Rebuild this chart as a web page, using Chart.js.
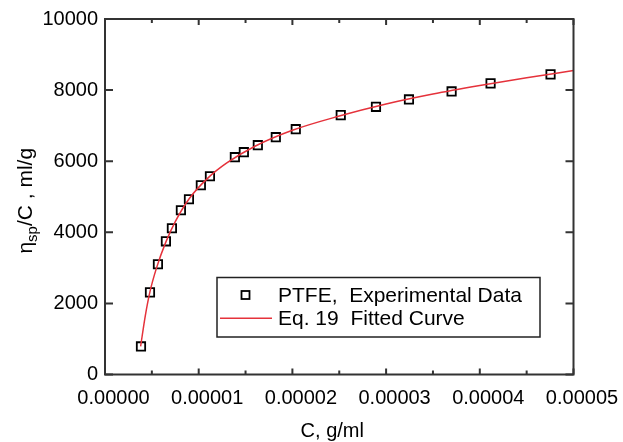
<!DOCTYPE html>
<html>
<head>
<meta charset="utf-8">
<script src="https://cdn.jsdelivr.net/npm/chart.js@4.4.0/dist/chart.umd.min.js"></script>
<style>
  html, body { margin: 0; padding: 0; background: #fff; }
  #wrap { width: 623px; height: 442px; }
</style>
</head>
<body>
<div id="wrap"><canvas id="chart" width="623" height="442"></canvas></div>
<script>
// experimental points (C in g/ml, eta_sp/C in ml/g)
const expC   = [3.84e-6, 4.80e-6, 5.65e-6, 6.50e-6, 7.14e-6, 8.10e-6, 8.96e-6, 1.023e-5, 1.12e-5,
                1.386e-5, 1.482e-5, 1.631e-5, 1.823e-5, 2.036e-5, 2.516e-5, 2.892e-5, 3.244e-5,
                3.699e-5, 4.115e-5, 4.755e-5];
const expEta = [790, 2310, 3100, 3746, 4113, 4620, 4930, 5324, 5577,
                6113, 6254, 6451, 6676, 6901, 7296, 7530, 7738,
                7963, 8189, 8442];

// fitted curve (Eq. 19)
const fitC   = [3.8e-6, 4.3e-6, 4.8e-6, 5.5e-6, 6.5e-6, 7.5e-6, 9e-6, 1.1e-5, 1.3e-5,
                1.6e-5, 2.0e-5, 2.5e-5, 3.0e-5, 3.5e-5, 4.0e-5, 4.5e-5, 5.0e-5];
const fitEta = [790, 1650, 2330, 3000, 3730, 4300, 4950, 5530, 5950,
                6420, 6870, 7270, 7610, 7890, 8130, 8350, 8550];

const xTicks = [0, 0.00001, 0.00002, 0.00003, 0.00004, 0.00005];
const xMinor = [0.000005, 0.000015, 0.000025, 0.000035, 0.000045];
const yTicks = [0, 2000, 4000, 6000, 8000, 10000];

const seriesNames = ['PTFE,  Experimental Data', 'Eq. 19  Fitted Curve'];

const FONT = '"Liberation Sans", Arial, Helvetica, sans-serif';
const AXIS_COLOR = '#333';
const RED = '#e5323b';

// box round the plot with inward ticks on all four sides
const framePlugin = {
  id: 'frame',
  afterDatasetsDraw(chart) {
    const {ctx, chartArea: a, scales: {x, y}} = chart;
    ctx.save();
    ctx.strokeStyle = AXIS_COLOR;
    ctx.lineWidth = 2;
    ctx.strokeRect(a.left, a.top, a.right - a.left, a.bottom - a.top);
    ctx.beginPath();
    const xt = (v, len) => {
      const px = x.getPixelForValue(v);
      ctx.moveTo(px, a.bottom); ctx.lineTo(px, a.bottom - len);
      ctx.moveTo(px, a.top); ctx.lineTo(px, a.top + len);
    };
    xTicks.forEach(v => xt(v, 6));
    xMinor.forEach(v => xt(v, 4));
    yTicks.forEach(v => {
      const py = y.getPixelForValue(v);
      ctx.moveTo(a.left, py); ctx.lineTo(a.left + 8, py);
      ctx.moveTo(a.right, py); ctx.lineTo(a.right - 8, py);
    });
    ctx.stroke();
    ctx.restore();
  }
};

// axis titles, y one has a subscript
const titlesPlugin = {
  id: 'titles',
  afterDraw(chart) {
    const {ctx, chartArea: a} = chart;
    ctx.save();
    ctx.fillStyle = '#000';
    ctx.textBaseline = 'alphabetic';
    ctx.font = '20px ' + FONT;
    ctx.textAlign = 'center';
    ctx.fillText('C, g/ml', (a.left + a.right) / 2 - 7, 437);

    // y title, rotated
    const big = '21px ' + FONT, small = '15px ' + FONT;
    ctx.textAlign = 'left';
    ctx.font = big;  const w1 = ctx.measureText('η').width;
    ctx.font = small; const w2 = ctx.measureText('sp').width;
    ctx.font = big;  const w3 = ctx.measureText('/C , ml/g').width;
    const total = w1 + w2 + w3;
    ctx.translate(32, (a.top + a.bottom) / 2 + 4);
    ctx.rotate(-Math.PI / 2);
    let cx = -total / 2;
    ctx.font = big;   ctx.fillText('η', cx, 0); cx += w1;
    ctx.font = small; ctx.fillText('sp', cx, 5); cx += w2;
    ctx.font = big;   ctx.fillText('/C , ml/g', cx, 0);
    ctx.restore();
  }
};

// boxed legend inside the plot
const legendPlugin = {
  id: 'boxLegend',
  afterDraw(chart) {
    const {ctx, chartArea: a} = chart;
    const bx = a.left + 112, by = a.top + 258.5, bw = 323, bh = 59.5;
    ctx.save();
    ctx.fillStyle = '#fff';
    ctx.fillRect(bx, by, bw, bh);
    ctx.strokeStyle = '#222';
    ctx.lineWidth = 1.5;
    ctx.strokeRect(bx, by, bw, bh);
    // marker
    ctx.lineWidth = 1.8;
    ctx.strokeStyle = '#000';
    ctx.strokeRect(bx + 24.5, by + 13.5, 8, 8);
    // line
    ctx.strokeStyle = RED;
    ctx.lineWidth = 1.5;
    ctx.beginPath();
    ctx.moveTo(bx + 3, by + 40.7);
    ctx.lineTo(bx + 55, by + 40.7);
    ctx.stroke();
    ctx.fillStyle = '#000';
    ctx.font = '21px ' + FONT;
    ctx.textBaseline = 'alphabetic';
    ctx.fillText(seriesNames[0], bx + 61, by + 24.6);
    ctx.fillText(seriesNames[1], bx + 61, by + 47.6);
    ctx.restore();
  }
};

new Chart(document.getElementById('chart'), {
  type: 'scatter',
  data: {
    datasets: [
      {
        label: seriesNames[1],
        type: 'line',
        data: fitC.map((c, i) => ({x: c, y: fitEta[i]})),
        borderColor: RED,
        borderWidth: 1.5,
        pointRadius: 0,
        fill: false,
        cubicInterpolationMode: 'monotone',
        order: 0
      },
      {
        label: seriesNames[0],
        data: expC.map((c, i) => ({x: c, y: expEta[i]})),
        pointStyle: 'rect',
        pointRadius: 5.9,
        borderColor: '#000',
        borderWidth: 1.8,
        backgroundColor: 'rgba(0,0,0,0)',
        order: 1
      }
    ]
  },
  options: {
    responsive: false,
    animation: false,
    events: [],
    layout: { padding: { left: 0, top: 18.7, right: 49.5, bottom: 0 } },
    plugins: { legend: { display: false }, tooltip: { enabled: false } },
    scales: {
      x: {
        type: 'linear',
        min: 0,
        max: 0.00005,
        afterBuildTicks: s => { s.ticks = xTicks.map(v => ({value: v})); },
        afterFit: s => { s.height = 67.5; },
        grid: { display: false, drawTicks: false },
        border: { display: false },
        ticks: {
          color: '#000',
          font: { family: FONT, size: 20 },
          padding: 12,
          labelOffset: 8.5,
          maxRotation: 0,
          autoSkip: false,
          callback: v => Number(v).toFixed(5)
        }
      },
      y: {
        type: 'linear',
        min: 0,
        max: 10000,
        afterBuildTicks: s => { s.ticks = yTicks.map(v => ({value: v})); },
        afterFit: s => { s.width = 105; },
        grid: { display: false, drawTicks: false },
        border: { display: false },
        ticks: {
          color: '#000',
          font: { family: FONT, size: 20 },
          padding: 7,
          autoSkip: false,
          callback: v => String(v)
        }
      }
    }
  },
  plugins: [framePlugin, titlesPlugin, legendPlugin]
});
</script>
</body>
</html>
